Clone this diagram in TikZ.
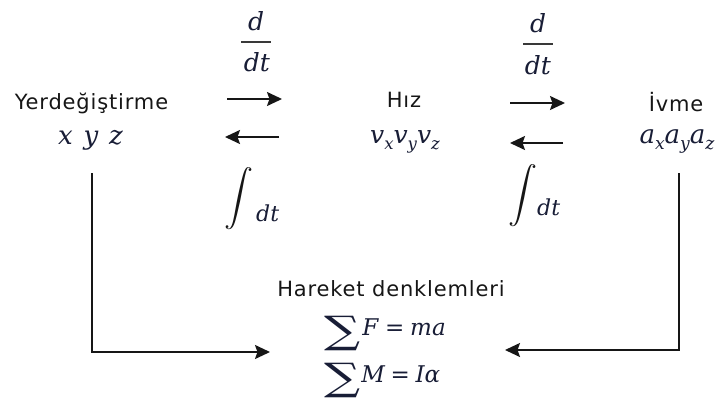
\documentclass[tikz,border=0pt]{standalone}
\usepackage{amsmath}
\usepackage{graphicx}
\usepackage{fontspec}
\usetikzlibrary{arrows.meta}
\newfontfamily\labfont[LetterSpace=4]{DejaVu Sans}
\newfontfamily\mfont{DejaVu Serif}
\newcommand\lowsub[1]{\raisebox{-0.24em}{\scalebox{0.66}{#1}}}
\newcommand\bigint{\scalebox{1.4}[1.35]{$\displaystyle\int$}}
\newcommand\mysum{\raisebox{-0.38em}{\scalebox{2.2}[1.65]{\upshape ∑}}}
\definecolor{txtcol}{HTML}{161616}
\definecolor{mathcol}{HTML}{181D36}
\tikzset{
  lab/.style={font={\labfont\fontsize{21}{25}\selectfont}, text=txtcol, inner sep=0pt, anchor=base},
  mth/.style={text=mathcol, inner sep=0pt, anchor=base},
  conn/.style={line width=1.7pt, draw=txtcol, -{Stealth[length=15pt,width=14pt,inset=2.5pt]}},
  barline/.style={line width=1.5pt, draw=txtcol!85},
}
\begin{document}
\begin{tikzpicture}[x=1pt,y=-1pt]
\useasboundingbox[fill=white] (0,0) rectangle (722,401);
% labels
\node[lab] (yer) at (91.5,110) {Yerdeğiştirme};
\node[lab] (hiz) at (404,108) {Hız};
\node[lab] (ivme) at (676,112) {İvme};
\node[lab] (har) at (391,296) {Hareket denklemleri};
% math labels
\node[mth, font={\mfont\itshape\fontsize{26}{30}\selectfont}] (xyz) at (90.5,144) {x\hspace{0.42em}y\hspace{0.42em}z};
\node[mth, font={\mfont\itshape\fontsize{25}{30}\selectfont}] (vel) at (405,143) {v\lowsub{x}v\lowsub{y}v\lowsub{z}};
\node[mth, font={\mfont\itshape\fontsize{26}{30}\selectfont}] (acc) at (677,143) {a\lowsub{x}a\lowsub{y}a\lowsub{z}};
% derivative fractions
\node[mth, font={\mfont\itshape\fontsize{25}{28}\selectfont}] (d1) at (256,31) {d};
\node[mth, font={\mfont\itshape\fontsize{25}{28}\selectfont}] (dt1) at (257,72) {dt};
\draw[barline] (241,42) -- (271,42);
\node[mth, font={\mfont\itshape\fontsize{25}{28}\selectfont}] (d2) at (538,33) {d};
\node[mth, font={\mfont\itshape\fontsize{25}{28}\selectfont}] (dt2) at (538,75) {dt};
\draw[barline] (523,44) -- (553,44);
% integrals
\node[mth, anchor=center, text=txtcol, font={\fontsize{21}{25}\selectfont}] (int1) at (239,198.5) {\bigint};
\node[mth, anchor=base west, font={\mfont\itshape\fontsize{22}{25}\selectfont}] (idt1) at (256,221) {dt};
\node[mth, anchor=center, text=txtcol, font={\fontsize{21}{25}\selectfont}] (int2) at (523,195.5) {\bigint};
\node[mth, anchor=base west, font={\mfont\itshape\fontsize{22}{25}\selectfont}] (idt2) at (537,215) {dt};
% equations
\node[mth, anchor=base west, font={\mfont\itshape\fontsize{23}{27}\selectfont}] (eq1) at (324,335) {\mysum\hspace{2pt}F\hspace{0.3em}=\hspace{0.25em}ma};
\node[mth, anchor=base west, font={\mfont\itshape\fontsize{23}{27}\selectfont}] (eq2) at (324,382) {\mysum\hspace{1pt}M\hspace{0.25em}=\hspace{0.25em}Iα};
% connector coordinates
\coordinate (a1s) at (227,99);  \coordinate (a1e) at (282,99);
\coordinate (b1s) at (279,137); \coordinate (b1e) at (225,137);
\coordinate (a2s) at (510,103); \coordinate (a2e) at (565,103);
\coordinate (b2s) at (563,143); \coordinate (b2e) at (510,143);
\coordinate (l0) at (92,173);   \coordinate (l2) at (270,352);
\coordinate (r0) at (679,173);  \coordinate (r2) at (505,350);
% connectors
\draw[conn] (a1s) -- (a1e);
\draw[conn] (b1s) -- (b1e);
\draw[conn] (a2s) -- (a2e);
\draw[conn] (b2s) -- (b2e);
\draw[conn] (l0) |- (l2);
\draw[conn] (r0) |- (r2);
\end{tikzpicture}
\end{document}
